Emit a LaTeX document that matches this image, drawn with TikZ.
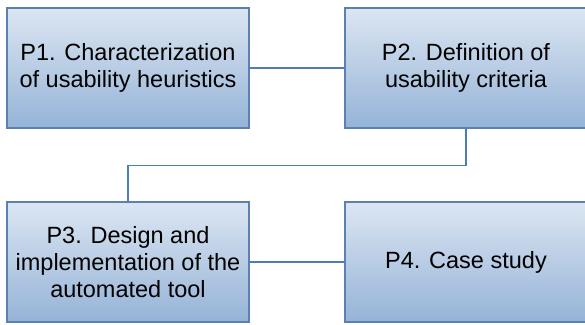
\documentclass[tikz,border=0pt]{standalone}
\usepackage{fontspec}
\setmainfont{Liberation Sans}
\usepackage{xcolor}
\usetikzlibrary{calc}

\definecolor{phasetop}{HTML}{DCE6F2}
\definecolor{phasebot}{HTML}{95B3D7}
\definecolor{phaseline}{HTML}{4A7EBB}
\definecolor{phaseedge}{HTML}{5B80B2}

\tikzset{
  phase/.style={draw=phaseedge, line width=1.2pt, top color=phasetop,
    bottom color=phasebot, minimum width=242pt, minimum height=120pt,
    align=center, inner sep=0pt, font=\fontsize{23.5}{27}\selectfont},
  link/.style={draw=phaseline, line width=1.6pt}
}

\begin{document}
\begin{tikzpicture}[x=1pt,y=1pt]
  \useasboundingbox (0,0) rectangle (585,-324);
  \node[phase] (p1) at (128,-68) {P1. Characterization\\of usability heuristics};
  \node[phase] (p2) at (466,-68) {P2. Definition of\\usability criteria};
  \node[phase] (p3) at (128,-262) {P3. Design and\\implementation of the\\automated tool};
  \node[phase] (p4) at (466,-262) {P4. Case study};
  \draw[link] (p1) -- (p2);
  \draw[link] (p2.south) -- ++(0,-37) -| (p3.north);
  \draw[link] (p3) -- (p4);
\end{tikzpicture}
\end{document}
